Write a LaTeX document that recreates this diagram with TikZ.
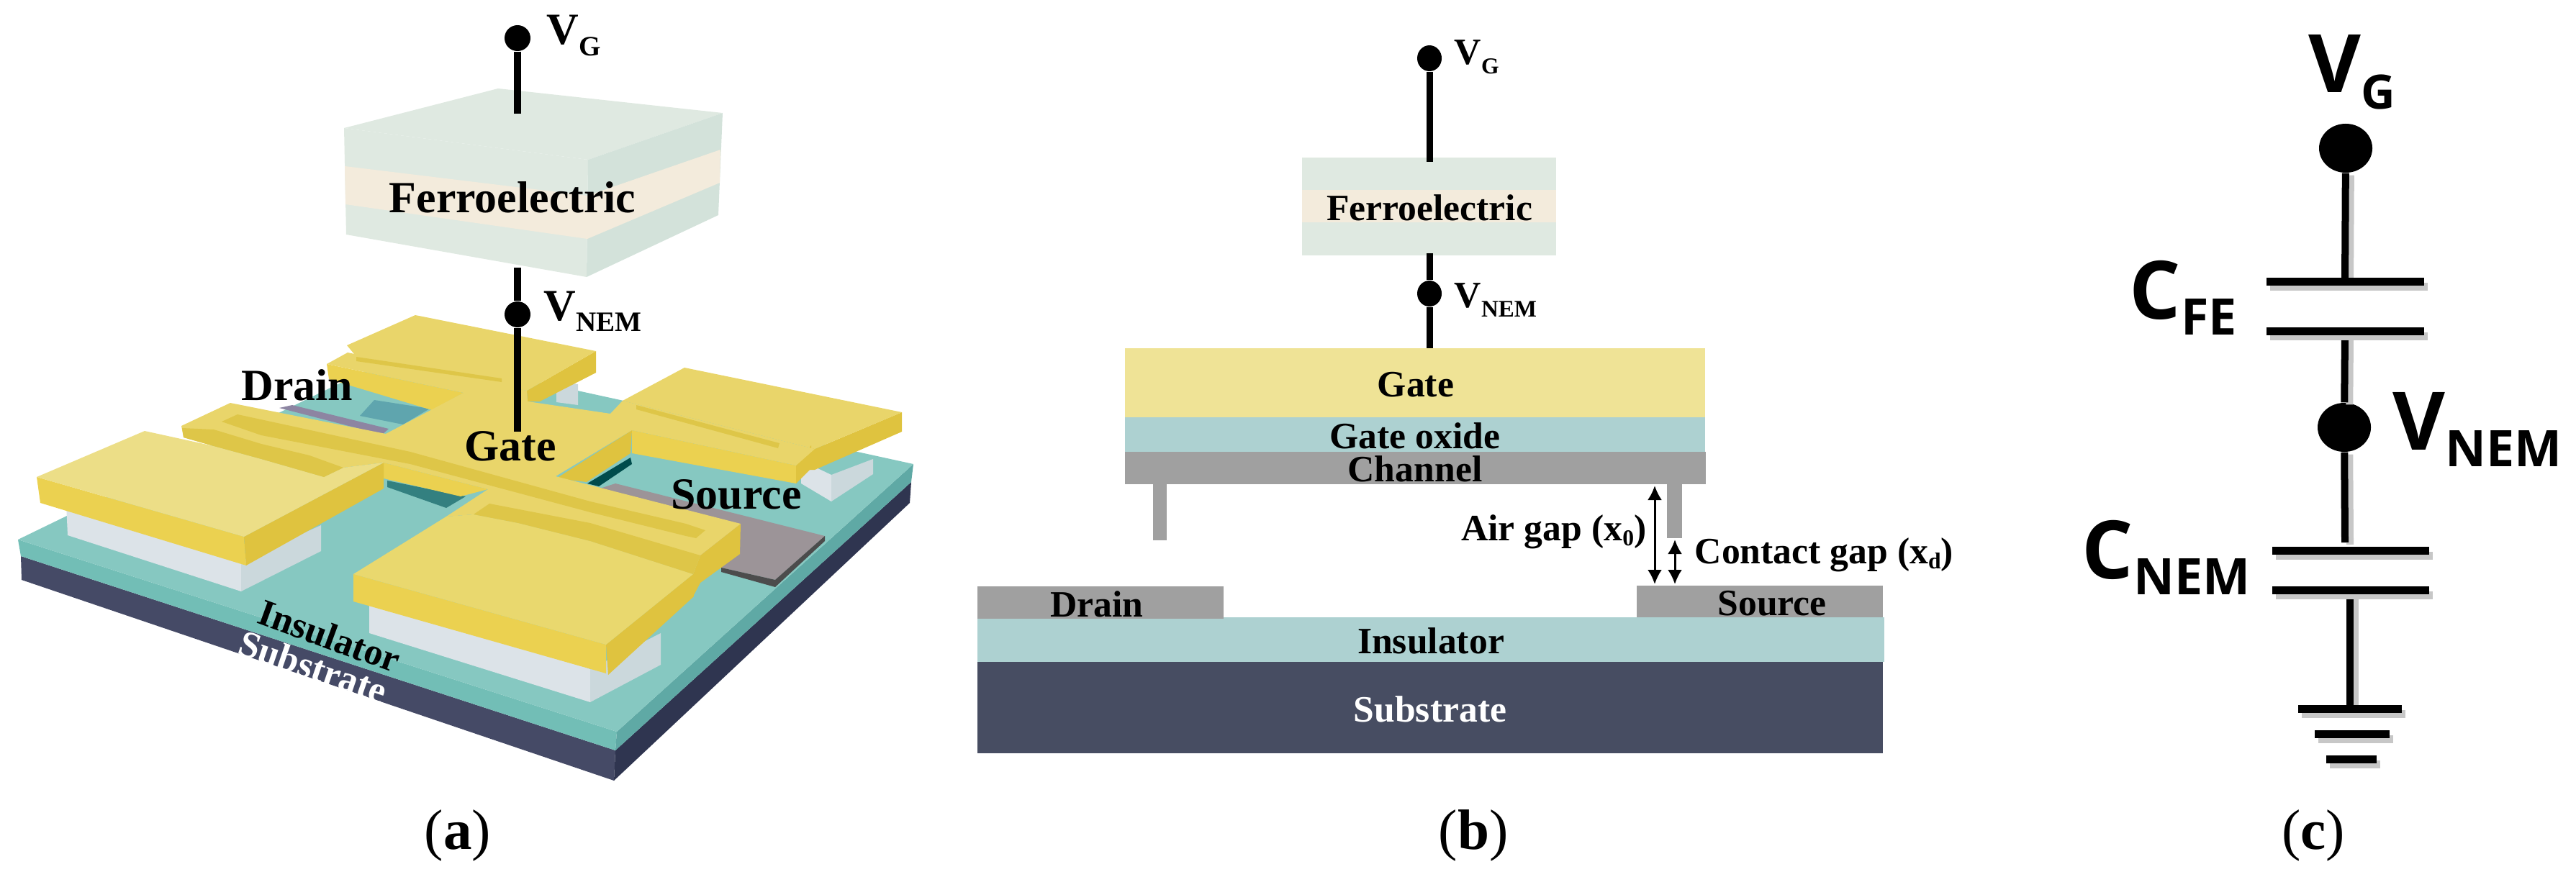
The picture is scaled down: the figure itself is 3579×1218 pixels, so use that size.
\documentclass[tikz,border=0pt]{standalone}
\usepackage{fontspec}
\setmainfont{Liberation Serif}
\newfontfamily\cktfont{Open Sans}
\usetikzlibrary{arrows.meta,shapes.geometric}

\definecolor{goldTop}{HTML}{E9D56A}
\definecolor{goldPad}{HTML}{E9D86E}
\definecolor{goldLite}{HTML}{ECDE87}
\definecolor{goldFront}{HTML}{EBD150}
\definecolor{goldSide}{HTML}{DFC33F}
\definecolor{goldSlot}{HTML}{DEC648}
\definecolor{feGreen}{HTML}{DFE9E1}
\definecolor{feSide}{HTML}{D3E2DA}
\definecolor{feBand}{HTML}{F3EBDC}
\definecolor{tealTop}{HTML}{86C8C1}
\definecolor{tealFront}{HTML}{72BEB6}
\definecolor{tealSide}{HTML}{5FA9A5}
\definecolor{tealDark}{HTML}{5FA5AE}
\definecolor{subFront}{HTML}{454A66}
\definecolor{subSide}{HTML}{2F3550}
\definecolor{blockFront}{HTML}{DCE3E8}
\definecolor{blockSide}{HTML}{CBD8DC}
\definecolor{grayTop}{HTML}{9C9498}
\definecolor{gateFlat}{HTML}{EFE396}
\definecolor{oxideFlat}{HTML}{ADD1D1}
\definecolor{chanFlat}{HTML}{A0A0A0}
\definecolor{subFlat}{HTML}{474D62}

\tikzset{
  wire/.style={line width=0.1cm,black},
  thinarrow/.style={line width=0.03cm,{Latex[length=0.2cm,width=0.2cm]}-{Latex[length=0.2cm,width=0.2cm]}},
  labA/.style={font=\fontsize{17.6}{20}\selectfont\bfseries,inner sep=0pt,anchor=base},
  labSmall/.style={font=\fontsize{14.7}{17}\selectfont\bfseries,inner sep=0pt,anchor=base},
  labTilt/.style={font=\fontsize{14.8}{17}\selectfont\bfseries,inner sep=0pt},
  labCkt/.style={font=\cktfont\bfseries\fontsize{31.9}{34}\selectfont,inner sep=0pt,anchor=base west},
  labCap/.style={font=\fontsize{22.5}{26}\selectfont,inner sep=0pt},
  dotA/.style={circle,fill=black,inner sep=0pt,minimum size=0.36cm},
  dotB/.style={ellipse,fill=black,inner sep=0pt,minimum width=0.34cm,minimum height=0.36cm},
  dotC/.style={ellipse,fill=black,inner sep=0pt,minimum width=0.74cm,minimum height=0.68cm},
  plate/.style={line width=0.11cm,black,preaction={draw=black!22,line width=0.11cm,transform canvas={shift={(0.05cm,-0.07cm)}}}},
  cktwire/.style={line width=0.1cm,black,preaction={draw=black!22,line width=0.1cm,transform canvas={shift={(0.07cm,-0.03cm)}}}},
}
% V with a lowered subscript: main, sub, sub size, drop
\newcommand{\vlab}[4]{#1\raisebox{-#4pt}{\fontsize{#3}{#3}\selectfont #2}}

\begin{document}
\begin{tikzpicture}[x=0.01cm,y=-0.01cm]
  \useasboundingbox (0,0) rectangle (3579,1218);

  %==========================
  % Panel (a): 3D view
  %==========================
  % substrate and insulator
  \fill[subFront] (29,773) -- (855,1043) -- (853,1085) -- (30,806) -- cycle;
  \fill[subSide] (855,1043) -- (1266,670) -- (1264,699) -- (853,1085) -- cycle;
  \fill[tealFront] (25,750) -- (857,1017) -- (855,1043) -- (29,773) -- cycle;
  \fill[tealSide] (857,1017) -- (1269,645) -- (1266,670) -- (855,1043) -- cycle;
  \fill[tealTop] (25,750) -- (857,1017) -- (1269,645) -- (560,490) -- cycle;

  % source, drain and the strips below the bars
  \fill[tealDark] (520,556) -- (597,568) -- (560,590) -- (500,578) -- cycle;
  \fill[grayTop] (855,672) -- (1146,745) -- (1077,806) -- (1002,789) -- (800,690) -- cycle;
  \fill[black!70] (1146,745) -- (1146,752) -- (1077,816) -- (1002,795) -- (1002,789) -- (1077,806) -- cycle;
  \fill[grayTop!90!blue] (388,567) -- (406,563) -- (540,596) -- (531,604) -- cycle;
  \fill[teal!60!gray] (538,668) -- (647,690) -- (620,706) -- (538,677) -- cycle;
  \fill[teal!60!black] (816,672) -- (876,636) -- (878,645) -- (832,676) -- cycle;

  % support blocks
  \fill[blockSide] (773,530) -- (803,534) -- (803,563) -- (773,559) -- cycle;
  \fill[blockFront] (1113,640) -- (1155,660) -- (1155,697) -- (1113,672) -- cycle;
  \fill[blockSide] (1155,660) -- (1213,638) -- (1213,659) -- (1155,697) -- cycle;
  \fill[blockFront] (92,700) -- (335,780) -- (335,822) -- (94,744) -- cycle;
  \fill[blockSide] (335,780) -- (446,730) -- (446,766) -- (335,822) -- cycle;
  \fill[blockFront] (513,810) -- (820,930) -- (820,976) -- (513,880) -- cycle;
  \fill[blockSide] (820,930) -- (918,880) -- (918,924) -- (820,976) -- cycle;

  % back pad
  \fill[goldSide] (732,543) -- (828,488) -- (828,518) -- (750,558) -- (733,558) -- cycle;
  \fill[goldTop] (482,480) -- (577,438) -- (828,488) -- (732,543) -- (497,498) -- cycle;
  % right pad
  \fill[goldSide] (1132,624) -- (1253,573) -- (1253,600) -- (1132,653) -- cycle;
  \fill[goldSide] (1125,619) -- (1132,624) -- (1132,653) -- (1125,653) -- cycle;
  \fill[goldTop] (865,557) -- (951,511) -- (1253,573) -- (1132,624) -- cycle;

  % walls of the gate
  \fill[goldFront] (454,506) -- (644,546) -- (600,570) -- (457,527) -- cycle;
  \fill[goldFront] (878,598) -- (1106,647) -- (1106,672) -- (878,630) -- cycle;
  \fill[goldSide] (1127,619) -- (1127,651) -- (1106,672) -- (1106,647) -- cycle;
  \fill[goldSide] (878,598) -- (773,665) -- (815,670) -- (876,630) -- cycle;
  \fill[goldFront] (533,643) -- (678,680) -- (640,690) -- (533,665) -- cycle;
  \fill[goldSide] (973,772) -- (1029,728) -- (1028,770) -- (973,810) -- (963,829) -- (963,798) -- cycle;

  % gate top: bars, rings and centre
  \fill[goldTop] (454,506) -- (483,490) -- (732,543) -- (733,558) -- (848,575) -- (865,557)
    -- (1132,624) -- (1106,647) -- (878,598) -- (772,662)
    -- (1029,728) -- (973,772) -- (963,798) -- (820,752) -- (720,727) -- (658,715)
    -- (620,718) -- (678,680) -- (533,643) -- (477,650) -- (450,663) -- (363,638)
    -- (297,620) -- (255,608) -- (252,592) -- (320,560) -- (536,603) -- (644,546) -- cycle;

  % front pads
  \fill[goldFront] (51,663) -- (339,746) -- (342,786) -- (56,699) -- cycle;
  \fill[goldSide] (339,746) -- (533,643) -- (533,679) -- (342,786) -- cycle;
  \fill[goldLite] (51,663) -- (201,599) -- (297,620) -- (363,638) -- (450,663) -- (477,650) -- (533,643) -- (339,746) -- cycle;
  \fill[goldFront] (491,798) -- (842,896) -- (842,936) -- (491,836) -- cycle;
  \fill[goldSide] (842,896) -- (963,798) -- (964,829) -- (845,938) -- cycle;
  \fill[goldPad] (491,798) -- (620,718) -- (658,715) -- (720,727) -- (820,752) -- (963,798) -- (842,896) -- cycle;

  % recesses in the rings
  \fill[goldSlot] (308,586) -- (330,576) -- (570,628) -- (820,697) -- (953,728) -- (980,737)
    -- (967,748) -- (953,745) -- (820,712) -- (570,645) -- (363,605) -- cycle;
  \fill[goldSlot] (253,595) -- (297,597) -- (363,617) -- (430,633) -- (477,650) -- (450,663)
    -- (363,638) -- (297,620) -- (255,608) -- cycle;
  \fill[goldSlot] (658,715) -- (680,700) -- (820,727) -- (973,772) -- (963,798) -- (820,752) -- (720,727) -- cycle;
  \fill[goldSlot] (884,563) -- (1083,616) -- (1081,623) -- (884,569) -- cycle;
  \fill[goldSlot] (495,496) -- (697,526) -- (697,531) -- (495,502) -- cycle;

  % ferroelectric block
  \fill[feGreen] (478,178) -- (692,123) -- (1004,157) -- (817,222) -- cycle;
  \fill[feGreen] (478,178) -- (817,222) -- (815,385) -- (481,326) -- cycle;
  \fill[feSide] (817,222) -- (1004,157) -- (998,299) -- (815,385) -- cycle;
  \fill[feBand] (479,231) -- (816,272) -- (816,332) -- (480,284) -- cycle;
  \fill[feBand] (816,272) -- (1001,208) -- (1000,254) -- (816,332) -- cycle;

  % leads
  \node[dotA] (vgA) at (719,53) {};
  \node[dotA] (vnemA) at (719,437) {};
  \coordinate (feTopA) at (719,158);
  \coordinate (feBotA) at (719,372);
  \coordinate (gateA) at (719,600);
  \draw[wire] (vgA) -- (feTopA);
  \draw[wire] (feBotA) -- (vnemA) -- (gateA);

  \node[labA,anchor=base west] (vgLabA) at (759,61) {\vlab{V}{G}{11.1}{4.6}};
  \node[labA,anchor=base west] (vnemLabA) at (755,445) {\vlab{V}{NEM}{11.1}{4.3}};
  \node[labA] (feA) at (712,295) {Ferroelectric};
  \node[labA] (gateLabA) at (709,640) {Gate};
  \node[labA] (drainA) at (413,556) {Drain};
  \node[labA] (sourceA) at (1023,707) {Source};
  \node[labTilt,rotate=-20] (insA) at (458,884) {Insulator};
  \node[labTilt,rotate=-19,white] (subA) at (435,927) {Substrate};
  \node[labCap] (capA) at (636,1161) {(\textbf{a})};

  %==========================
  % Panel (b): cross section
  %==========================
  \fill[feGreen] (1809,219) rectangle (2162,355);
  \fill[feBand] (1809,264) rectangle (2162,309);
  \fill[gateFlat] (1563,484) rectangle (2369,580);
  \fill[oxideFlat] (1563,580) rectangle (2369,628);
  \fill[chanFlat] (1563,628) rectangle (2370,673);
  \fill[chanFlat] (1602,673) rectangle (1621,751);
  \fill[chanFlat] (2316,673) rectangle (2337,748);
  \fill[oxideFlat] (1358,858) rectangle (2618,920);
  \fill[subFlat] (1358,920) rectangle (2616,1047);
  \fill[chanFlat] (1358,815) rectangle (1700,860);
  \fill[chanFlat] (2274,814) rectangle (2616,858);

  \node[dotB] (vgB) at (1986,81) {};
  \node[dotB] (vnemB) at (1986,408) {};
  \coordinate (feTopB) at (1986,225);
  \coordinate (feBotB) at (1986,352);
  \coordinate (gateB) at (1986,484);
  \draw[wire,line width=0.09cm] (vgB) -- (feTopB);
  \draw[wire,line width=0.09cm] (feBotB) -- (vnemB) -- (gateB);

  % gap arrows
  \coordinate (airTop) at (2299,675);
  \coordinate (airBot) at (2299,812);
  \coordinate (conTop) at (2327,750);
  \coordinate (conBot) at (2327,812);
  \draw[thinarrow] (airTop) -- (airBot);
  \draw[thinarrow] (conTop) -- (conBot);

  \node[labSmall,anchor=base west] (vgLabB) at (2020,89) {\vlab{V}{G}{9}{3.7}};
  \node[labSmall,anchor=base west] (vnemLabB) at (2020,427) {\vlab{V}{NEM}{9.4}{3.7}};
  \node[labSmall] (feB) at (1986,306) {Ferroelectric};
  \node[labSmall] (gateLabB) at (1967,551) {Gate};
  \node[labSmall] (oxideB) at (1966,623) {Gate oxide};
  \node[labSmall] (chanB) at (1966,669) {Channel};
  \node[labSmall,anchor=base east] (airB) at (2288,751) {Air gap (x\raisebox{-2pt}{\fontsize{9}{9}\selectfont 0})};
  \node[labSmall,anchor=base west] (conB) at (2354,783) {Contact gap (x\raisebox{-2pt}{\fontsize{9}{9}\selectfont d})};
  \node[labSmall] (drainB) at (1524,857) {Drain};
  \node[labSmall] (sourceB) at (2462,855) {Source};
  \node[labSmall] (insB) at (1988,908) {Insulator};
  \node[labSmall,white] (subB) at (1987,1003) {Substrate};
  \node[labCap] (capB) at (2047,1161) {(\textbf{b})};

  %==========================
  % Panel (c): equivalent circuit
  %==========================
  \node[dotC] (vgC) at (3259,206) {};
  \node[dotC] (vnemC) at (3257,594) {};
  \coordinate (feUp) at (3258,391);
  \coordinate (feLo) at (3258,460);
  \coordinate (nemEnd) at (3258,754);
  \coordinate (nemLo) at (3265,820);
  \coordinate (gnd) at (3265,985);

  \draw[cktwire] (vgC) -- (feUp);
  \draw[cktwire] (feLo) -- (vnemC);
  \draw[cktwire] (vnemC) -- (nemEnd);
  \draw[cktwire] (nemLo) -- (gnd);

  % plates: x from, x to, y
  \foreach \xa/\xb/\yy in {3149/3368/391,3149/3368/460,3157/3375/765,3157/3375/820,3193/3337/985,3216/3320/1020,3232/3302/1055} {
    \draw[plate] (\xa,\yy) -- (\xb,\yy);
  }

  \node[labCkt] (vgLabC) at (3207,128) {\vlab{V}{G}{18.7}{6.8}};
  \node[labCkt] (cfeC) at (2958,443) {\vlab{C}{FE}{19.9}{6.5}};
  \node[labCkt] (vnemLabC) at (3324,625) {\vlab{V}{NEM}{19.9}{6.8}};
  \node[labCkt] (cnemC) at (2892,804) {\vlab{C}{NEM}{19.9}{6.5}};
  \node[labCap] (capC) at (3214,1161) {(\textbf{c})};
\end{tikzpicture}
\end{document}
